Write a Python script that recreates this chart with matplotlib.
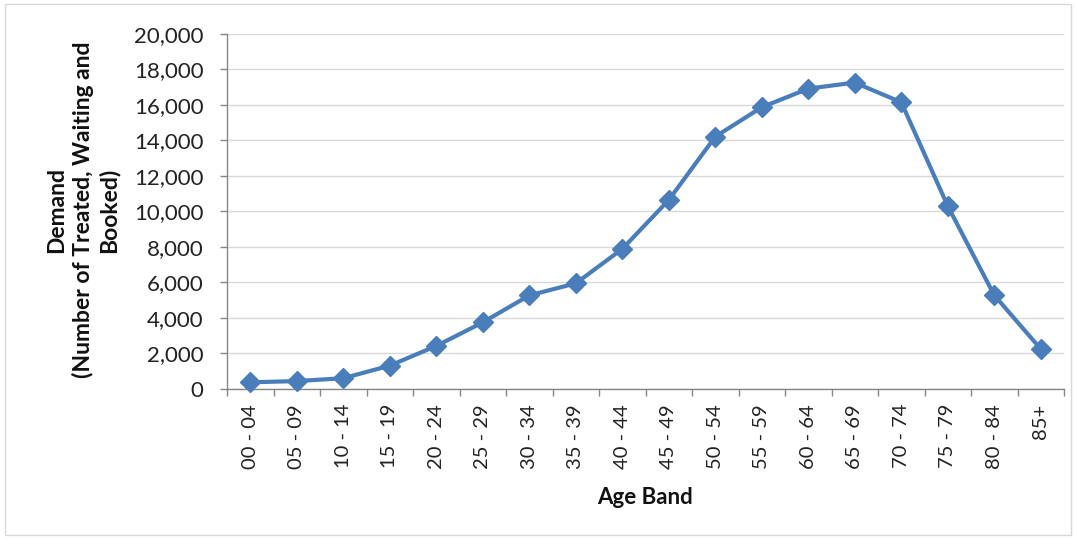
import matplotlib
matplotlib.use("Agg")
import matplotlib.pyplot as plt
from matplotlib.ticker import FuncFormatter, FixedLocator
from matplotlib.patches import Rectangle

age_bands = ["00 - 04", "05 - 09", "10 - 14", "15 - 19", "20 - 24", "25 - 29",
             "30 - 34", "35 - 39", "40 - 44", "45 - 49", "50 - 54", "55 - 59",
             "60 - 64", "65 - 69", "70 - 74", "75 - 79", "80 - 84", "85+"]
demand = [360, 430, 590, 1300, 2410, 3740, 5260, 5940, 7880, 10640,
          14210, 15870, 16920, 17260, 16150, 10300, 5270, 2240]
y_ticks = [0, 2000, 4000, 6000, 8000, 10000, 12000, 14000, 16000, 18000, 20000]

plt.rcParams['font.family'] = ['Lato', 'DejaVu Sans']

fig = plt.figure(figsize=(10.76, 5.39), dpi=100)
fig.patches.append(Rectangle((5/1076, 4/539), 1066/1076, 531/539, transform=fig.transFigure,
                             fill=False, edgecolor='#d9d9d9', linewidth=1))
ax = fig.add_axes([227/1076, 1 - 388.7/539, (1064 - 227)/1076, (388.7 - 34)/539])

n = len(age_bands)
x = list(range(n))
ax.plot(x, demand, color='#4a7ebb', linewidth=3, marker='D', markersize=10.5,
        markeredgecolor='#4a7ebb', markerfacecolor='#4a7ebb', zorder=3, clip_on=False)

ax.set_xlim(-0.5, n - 0.5)
ax.set_ylim(0, 20000)
ax.set_yticks(y_ticks)
ax.yaxis.set_major_formatter(FuncFormatter(lambda v, p: f"{int(v):,}"))
ax.grid(axis='y', color='#d9d9d9', linewidth=1)
ax.set_axisbelow(True)

# x ticks at category boundaries, labels at centres
ax.xaxis.set_major_locator(FixedLocator([i - 0.5 for i in range(n + 1)]))
ax.xaxis.set_major_formatter(FuncFormatter(lambda v, p: ""))
ax.xaxis.set_minor_locator(FixedLocator(x))
ax.set_xticklabels(age_bands, minor=True, rotation=90)
ax.tick_params(axis='x', which='major', length=5, color='#868686', width=1, direction='out')
ax.tick_params(axis='x', which='minor', length=0, pad=11, labelsize=14.5, labelcolor='#222222')
ax.tick_params(axis='y', length=5, color='#868686', width=1, labelsize=16,
               labelcolor='#222222', pad=12)

for s in ['top', 'right']:
    ax.spines[s].set_visible(False)
for s in ['left', 'bottom']:
    ax.spines[s].set_color('#868686')
    ax.spines[s].set_linewidth(1)

fig.text(645/1076, 1 - 497/539, "Age Band", ha='center', va='center',
         fontsize=16, fontweight='bold', color='#111111')
fig.text(83/1076, 1 - 210/539, "Demand\n(Number of Treated, Waiting and\nBooked)",
         ha='center', va='center', rotation=90, fontsize=16.5, fontweight='bold',
         color='#111111', linespacing=1.25, multialignment='center')

fig.savefig("out.png", dpi=100)
